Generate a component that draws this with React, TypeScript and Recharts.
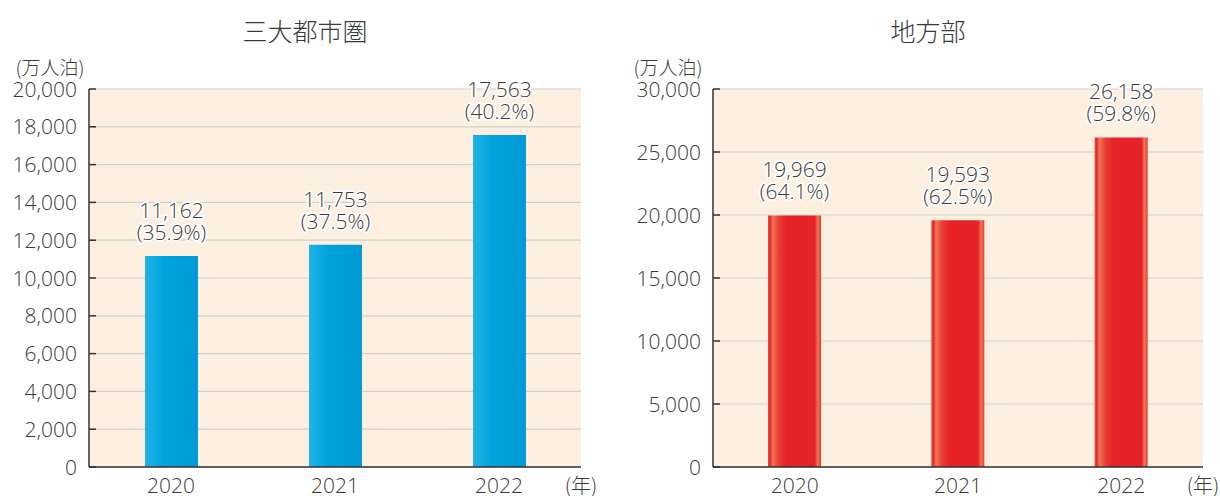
import { Bar, BarChart, CartesianGrid, LabelList, XAxis, YAxis } from 'recharts';

const years = ['2020', '2021', '2022'];
const metroValues = [11162, 11753, 17563];
const metroShares = ['35.9%', '37.5%', '40.2%'];
const regionalValues = [19969, 19593, 26158];
const regionalShares = ['64.1%', '62.5%', '59.8%'];
const metroTicks = [0, 2000, 4000, 6000, 8000, 10000, 12000, 14000, 16000, 18000, 20000];
const regionalTicks = [0, 5000, 10000, 15000, 20000, 25000, 30000];

const FONT = '"Open Sans", "Noto Sans CJK JP", sans-serif';
const CJK = '"Noto Sans CJK JP", "Noto Sans", sans-serif';
const TEXT = '#3a3a3a';
const BG = '#fdf0e1';

function fmt(v: number) {
  return v.toLocaleString('en-US');
}

function YTick(props: any) {
  const { x, y, payload } = props;
  return (
    <g>
      <text
        x={x}
        y={y}
        dy="0.36em"
        textAnchor="end"
        fontSize={21}
        fontFamily={FONT}
        fontWeight={300}
        fill={TEXT}
      >
        {fmt(payload.value)}
      </text>
      <line x1={x + 12} x2={x + 19} y1={y} y2={y} stroke="#333" strokeWidth={1.5} />
    </g>
  );
}

function ValueLabel(props: any) {
  const { x, y, width, index, value, shares } = props;
  const cx = x + width / 2;
  const common = {
    textAnchor: 'middle' as const,
    fontSize: 21,
    fontFamily: FONT,
    fontWeight: 300,
    fill: TEXT,
    stroke: '#fff',
    strokeWidth: 3.5,
    paintOrder: 'stroke' as const,
    strokeLinejoin: 'round' as const,
  };
  return (
    <g>
      <text x={cx} y={y - 38} {...common}>
        {fmt(value)}
      </text>
      <text x={cx} y={y - 16} {...common}>
        ({shares[index]})
      </text>
    </g>
  );
}

function Panel({
  values,
  shares,
  ticks,
  yWidth,
  right,
  gradId,
  stops,
}: {
  values: number[];
  shares: string[];
  ticks: number[];
  yWidth: number;
  right: number;
  gradId: string;
  stops: [string, string][];
}) {
  const data = years.map((year, i) => ({ year, value: values[i] }));
  const max = ticks[ticks.length - 1];
  return (
    <BarChart
      width={610}
      height={496}
      data={data}
      margin={{ top: 89, right, left: 0, bottom: 0 }}
      barCategoryGap={0}
    >
      <defs>
        <linearGradient id={gradId} x1="0" y1="0" x2="1" y2="0">
          {stops.map(([off, c]) => (
            <stop key={off} offset={off} stopColor={c} />
          ))}
        </linearGradient>
      </defs>
      <CartesianGrid vertical={false} stroke="#d2d0cd" strokeWidth={1.2} fill={BG} />
      <XAxis
        dataKey="year"
        height={29}
        tickLine={false}
        tickSize={0}
        tickMargin={11}
        axisLine={{ stroke: '#333', strokeWidth: 1.5 }}
        tick={{ fontSize: 21, fontFamily: FONT, fontWeight: 300, fill: TEXT }}
      />
      <XAxis xAxisId="top" orientation="top" dataKey="year" height={0} tick={false} tickLine={false} axisLine={{ stroke: '#555', strokeWidth: 1.5 }} />
      <YAxis
        domain={[0, max]}
        ticks={ticks}
        width={yWidth}
        tickLine={false}
        tickSize={0}
        tickMargin={12}
        interval={0}
        axisLine={{ stroke: '#333', strokeWidth: 1.5 }}
        tick={<YTick />}
      />
      <YAxis yAxisId="right" orientation="right" width={0} domain={[0, max]} tick={false} tickLine={false} axisLine={{ stroke: '#555', strokeWidth: 1.5 }} />
      <Bar dataKey="value" fill={`url(#${gradId})`} barSize={53} isAnimationActive={false}>
        <LabelList dataKey="value" content={(p: any) => <ValueLabel {...p} shares={shares} />} />
      </Bar>
    </BarChart>
  );
}

const overlay = (left: number, top: number, size: number): React.CSSProperties => ({
  position: 'absolute',
  left,
  top,
  transform: 'translate(-50%, -50%)',
  fontSize: size,
  fontFamily: CJK,
  fontWeight: 300,
  color: TEXT,
  whiteSpace: 'nowrap',
  lineHeight: 1,
});

export default function App() {
  return (
    <div style={{ position: 'absolute', left: 0, top: 0, width: 1220, height: 496, background: '#fff', overflow: 'hidden' }}>
      <div style={{ position: 'absolute', left: 0, top: 0 }}>
        <Panel
          values={metroValues}
          shares={metroShares}
          ticks={metroTicks}
          yWidth={89}
          right={29}
          gradId="blueGrad"
          stops={[
            ['0', '#22b2e6'],
            ['0.35', '#00a3dc'],
            ['1', '#009ad5'],
          ]}
        />
      </div>
      <div style={{ position: 'absolute', left: 610, top: 0 }}>
        <Panel
          values={regionalValues}
          shares={regionalShares}
          ticks={regionalTicks}
          yWidth={103}
          right={17}
          gradId="redGrad"
          stops={[
            ['0', '#ec4a3e'],
            ['0.04', '#e52a2c'],
            ['0.09', '#f07456'],
            ['0.2', '#ea3f33'],
            ['0.35', '#e52228'],
            ['0.88', '#e42228'],
            ['0.94', '#f07456'],
            ['1', '#e53a33'],
          ]}
        />
      </div>
      <div style={overlay(305, 30, 25)}>三大都市圏</div>
      <div style={overlay(928, 30, 25)}>地方部</div>
      <div style={overlay(50, 66, 19)}>(万人泊)</div>
      <div style={overlay(668, 66, 19)}>(万人泊)</div>
      <div style={overlay(581, 485, 20)}>(年)</div>
      <div style={overlay(1203, 485, 20)}>(年)</div>
    </div>
  );
}
